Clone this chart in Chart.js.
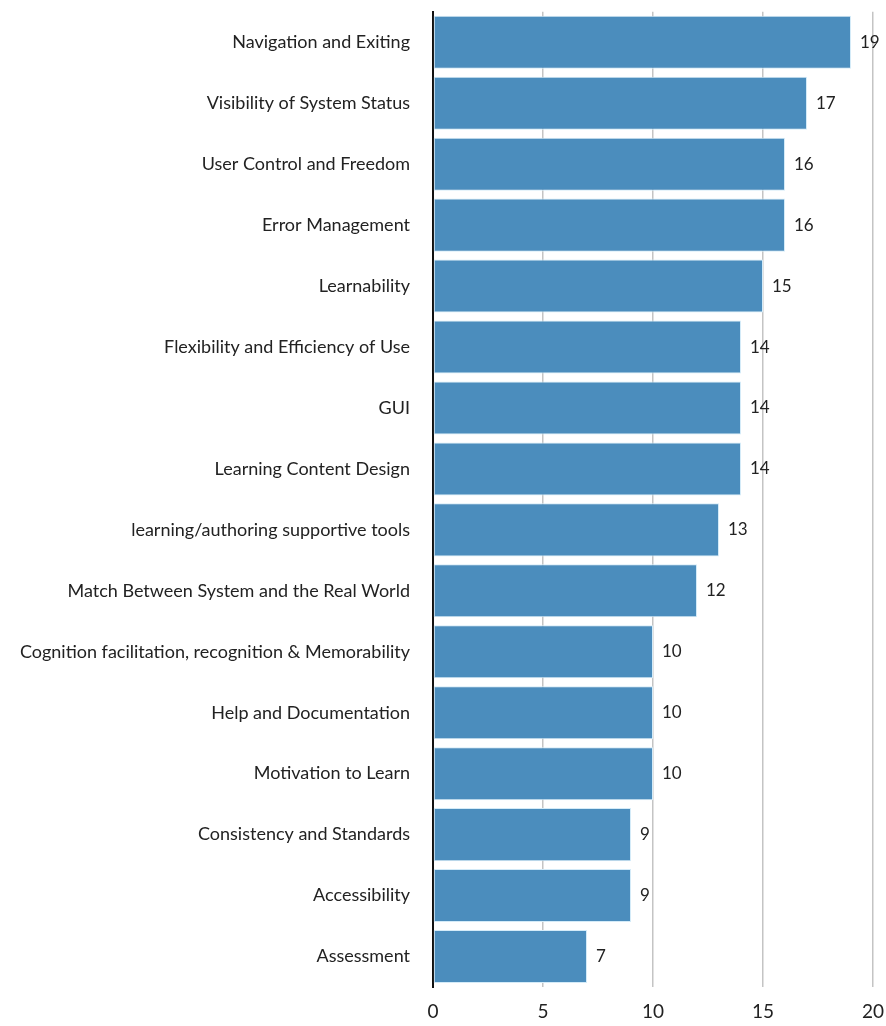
<!DOCTYPE html>
<html>
<head>
<meta charset="utf-8">
<script src="https://cdn.jsdelivr.net/npm/chart.js@4.4.1/dist/chart.umd.min.js"></script>
<style>
  html, body { margin: 0; padding: 0; background: #fff; }
  #wrap { width: 886px; height: 1026px; position: relative; }
</style>
</head>
<body>
<div id="wrap"><canvas id="chart"></canvas></div>
<script>
// Heuristic categories, top to bottom
const categories = [
    'Navigation and Exiting',
    'Visibility of System Status',
    'User Control and Freedom',
    'Error Management',
    'Learnability',
    'Flexibility and Efficiency of Use',
    'GUI',
    'Learning Content Design',
    'learning/authoring supportive tools',
    'Match Between System and the Real World',
    'Cognition facilitation, recognition & Memorability',
    'Help and Documentation',
    'Motivation to Learn',
    'Consistency and Standards',
    'Accessibility',
    'Assessment'
];

// Counts per category
const counts = [19, 17, 16, 16, 15, 14, 14, 14, 13, 12, 10, 10, 10, 9, 9, 7];

// X axis range / ticks
const xMin = 0;
const xMax = 20;
const xStep = 5;

const FONT = 'Lato, "Open Sans", sans-serif';

/**
 * Draws the value next to the end of each bar.
 */
const valueLabels = {
    id: 'valueLabels',
    afterDatasetsDraw(chart) {
        const ctx = chart.ctx;
        const meta = chart.getDatasetMeta(0);
        ctx.save();
        ctx.font = '17px ' + FONT;
        ctx.fillStyle = '#222';
        ctx.textAlign = 'left';
        ctx.textBaseline = 'middle';
        meta.data.forEach((bar, i) => {
            ctx.fillText(String(counts[i]), bar.x + 9, bar.y);
        });
        ctx.restore();
    }
};

new Chart(document.getElementById('chart').getContext('2d'), {
    type: 'bar',
    data: {
        labels: categories,
        datasets: [{
            data: counts,
            backgroundColor: '#4b8dbd',
            borderColor: '#d4ebf8',
            borderWidth: 1,
            borderSkipped: false,
            categoryPercentage: 1,
            barPercentage: 0.87
        }]
    },
    options: {
        indexAxis: 'y',
        responsive: true,
        maintainAspectRatio: false,
        animation: false,
        layout: { padding: { top: 0, right: 13, left: 0, bottom: 0 } },
        plugins: {
            legend: { display: false },
            tooltip: { enabled: false }
        },
        scales: {
            x: {
                min: xMin,
                max: xMax,
                ticks: {
                    stepSize: xStep,
                    padding: 1,
                    color: '#222',
                    font: { family: FONT, size: 19 }
                },
                // invisible tick marks keep the labels below the plot
                grid: {
                    color: '#c4c4c4',
                    lineWidth: 1.5,
                    drawTicks: true,
                    tickLength: 12,
                    tickColor: 'rgba(0,0,0,0)'
                },
                border: { display: false },
                afterFit(scale) { scale.height = 39; }
            },
            y: {
                ticks: {
                    padding: 1,
                    color: '#222',
                    font: { family: FONT, size: 18 }
                },
                // invisible tick marks push the labels away from the axis
                grid: {
                    drawOnChartArea: false,
                    drawTicks: true,
                    tickLength: 22,
                    tickColor: 'rgba(0,0,0,0)',
                    color: 'rgba(0,0,0,0)'
                },
                border: { display: true, color: '#111', width: 2 },
                afterFit(scale) { scale.width = 433; }
            }
        }
    },
    plugins: [valueLabels]
});
</script>
</body>
</html>
